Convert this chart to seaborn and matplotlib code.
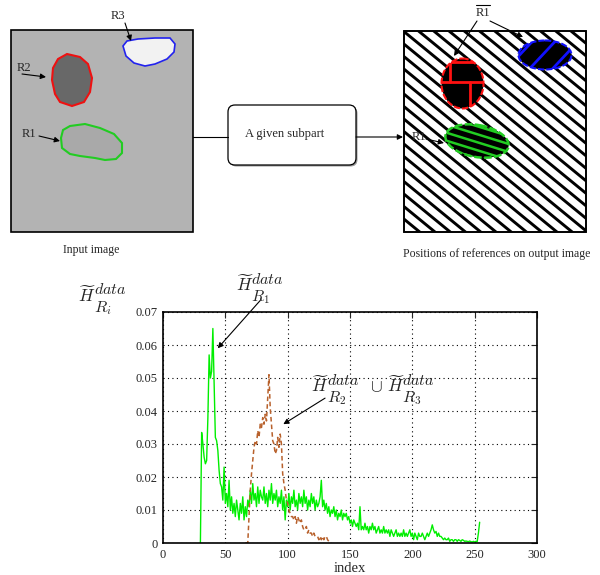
import seaborn as sns
import matplotlib.pyplot as plt
import matplotlib.patches as mpatches
import numpy as np
import pandas as pd

# ---- data (values in units of 1e-3) ----
r1_start = 30
r1_hist = [0,
           33.5, 30, 26, 24, 25, 38, 57, 50, 52, 65,
           48, 32, 31, 28, 22, 18, 17, 13, 23, 12,
           15, 11, 19, 10, 14, 9, 12, 8, 13, 10,
           7, 12, 9, 14, 7, 11, 8, 13, 11, 16,
           12, 18, 13, 15, 11, 17, 12, 16, 14, 13,
           17, 12, 15, 11, 16, 13, 18, 12, 15, 13,
           16, 11, 14, 12, 16, 10, 14, 7, 13, 11,
           15, 10, 14, 12, 16, 11, 13, 10, 15, 12,
           14, 11, 16, 12, 14, 10, 13, 11, 15, 12,
           14, 10, 13, 11, 12, 14, 19, 11, 13, 10,
           12, 9, 11, 8, 10, 9, 11, 8, 10, 7,
           9, 8, 10, 7, 9, 8, 9, 7, 8, 6,
           7, 5, 7, 6, 5, 6, 4, 11, 4, 5,
           4, 6, 4, 5, 3, 5, 4, 6, 4, 5,
           3, 4, 5, 3, 4, 3, 5, 3, 4, 3,
           4, 2, 4, 3, 2, 3, 4, 2, 3, 2,
           3, 2, 4, 2, 3, 2, 3, 4, 2, 3,
           1, 3, 2, 1, 3, 2, 2, 3, 2, 1,
           2, 3, 2, 3, 4, 5.5, 4, 3, 3.5, 2,
           3, 2, 2, 1.5, 1, 1.5, 1, 1, 1.5, 0.5,
           1, 1, 0.5, 1, 1, 0.5, 1, 0.8, 0.5, 1,
           0.8, 0.5, 0.6, 0.5, 0.4, 0.6, 0.4, 0.3, 0.5, 0.3,
           0.5, 0.4, 3, 6.3]

r23_start = 66
r23_hist = [0, 0, 0, 8,
            16, 21, 25, 29, 31, 30, 34, 32, 36, 35,
            38, 36, 39, 37, 44, 51, 41, 36, 31, 30,
            27, 28, 32, 29, 33, 30, 21, 18, 16, 13,
            12, 10, 9, 8, 8, 7, 8, 6, 8, 7,
            6, 7, 5, 4, 4, 5, 3, 4, 3, 3,
            2, 3, 2, 2, 2, 1, 2, 1, 2, 1,
            2, 2, 1, 0.5, 0, 0]

x_ticks = [0, 50, 100, 150, 200, 250, 300]
y_ticks = [0, 0.01, 0.02, 0.03, 0.04, 0.05, 0.06, 0.07]
y_tick_labels = ['0', '0.01', '0.02', '0.03', '0.04', '0.05', '0.06', '0.07']

df_r1 = pd.DataFrame({'index': np.arange(r1_start, r1_start + len(r1_hist)),
                      'value': np.array(r1_hist) / 1000})
df_r23 = pd.DataFrame({'index': np.arange(r23_start, r23_start + len(r23_hist)),
                       'value': np.array(r23_hist) / 1000})

sns.set_style('white')
plt.rcParams['font.family'] = ['Liberation Serif', 'DejaVu Serif']
plt.rcParams['mathtext.fontset'] = 'cm'

fig = plt.figure(figsize=(6, 5.75), dpi=100)

# ---------------- diagram (pixel coordinates) ----------------
dax = fig.add_axes([0, 0, 1, 1])
dax.set_xlim(0, 600)
dax.set_ylim(575, 0)
dax.set_axis_off()

arrow = dict(arrowstyle='-|>', color='black', lw=0.8, mutation_scale=8,
             shrinkA=0, shrinkB=0)

# input image
dax.add_patch(mpatches.Rectangle((11, 30), 182, 202, facecolor='#b3b3b3',
                                 edgecolor='black', lw=1.2))
r2_poly = [(67, 54), (80, 57), (88, 64), (92, 78), (90, 92), (84, 102), (72, 106),
           (60, 102), (55, 94), (52, 80), (53, 68), (58, 59)]
r3_poly = [(123, 46), (127, 41), (138, 39), (155, 38), (170, 38), (175, 44), (174, 52),
           (167, 59), (155, 64), (145, 66), (134, 63), (126, 56)]
r1_poly = [(61, 138), (63, 130), (70, 126), (85, 124), (100, 128), (114, 134), (122, 143),
           (122, 153), (116, 159), (105, 160), (95, 158), (80, 156), (70, 154), (62, 148)]
dax.add_patch(mpatches.Polygon(r2_poly, closed=True, facecolor='#686868', edgecolor='#ee1111', lw=1.5))
dax.add_patch(mpatches.Polygon(r3_poly, closed=True, facecolor='#f2f2f2', edgecolor='#2222ee', lw=1.2))
dax.add_patch(mpatches.Polygon(r1_poly, closed=True, facecolor='#a9a9a9', edgecolor='#22cc22', lw=1.5))

dax.text(118, 16, 'R3', fontsize=9, ha='center', va='center')
dax.annotate('', xy=(131, 41), xytext=(125, 23), arrowprops=arrow)
dax.text(24, 68, 'R2', fontsize=9, ha='center', va='center')
dax.annotate('', xy=(46, 77), xytext=(22, 74), arrowprops=arrow)
dax.text(29, 134, 'R1', fontsize=9, ha='center', va='center')
dax.annotate('', xy=(60, 141), xytext=(39, 136), arrowprops=arrow)
dax.text(91, 250, 'Input image', fontsize=8.5, ha='center', va='center')

# subpart box
dax.plot([193, 228], [137, 137], color='black', lw=0.8)
dax.add_patch(mpatches.FancyBboxPatch((229.5, 106.5), 128, 60,
                                      boxstyle='round,pad=0,rounding_size=7',
                                      facecolor='#999999', edgecolor='none'))
dax.add_patch(mpatches.FancyBboxPatch((228, 105), 128, 60,
                                      boxstyle='round,pad=0,rounding_size=7',
                                      facecolor='white', edgecolor='black', lw=0.9))
dax.text(285, 134, 'A given subpart', fontsize=9, ha='center', va='center')
dax.annotate('', xy=(403, 137), xytext=(356, 137), arrowprops=arrow)

# output image with hatching
out_box = mpatches.Rectangle((404, 31), 182, 201, facecolor='white',
                             edgecolor='black', lw=1.2, zorder=1)
dax.add_patch(out_box)
xs = np.array([380, 620])
for c in np.arange(-349.7 - 13 * 12.5, -100, 12.5):
    ln, = dax.plot(xs, 0.82 * xs + c, color='black', lw=2.1, zorder=1.5)
    ln.set_clip_path(out_box)
dax.add_patch(mpatches.Rectangle((404, 31), 182, 201, facecolor='none',
                                 edgecolor='black', lw=1.2, zorder=4))

red_e = mpatches.Ellipse((462.5, 83.5), 42, 50, facecolor='black', edgecolor='none', zorder=2)
blue_e = mpatches.Ellipse((545, 55), 53, 29, facecolor='black', edgecolor='none', zorder=2)
green_e = mpatches.Ellipse((477, 141), 64, 32, angle=10, facecolor='black', edgecolor='none', zorder=2)
for e in (red_e, blue_e, green_e):
    dax.add_patch(e)

for (x0, x1, y0, y1) in [(430, 500, 62, 62), (430, 500, 82, 82), (450, 450, 62, 82),
                         (470, 470, 82, 110)]:
    ln, = dax.plot([x0, x1], [y0, y1], color='#ff1111', lw=2, zorder=2.5)
    ln.set_clip_path(red_e)
for c in [611, 635.4, 660]:
    ln, = dax.plot(xs, -1.07 * xs + c, color='#1111ff', lw=2, zorder=2.5)
    ln.set_clip_path(blue_e)
for c in np.arange(-5.7 - 24, 30, 8):
    ln, = dax.plot(xs, 0.31 * xs + c, color='#22cc22', lw=1.8, zorder=2.5)
    ln.set_clip_path(green_e)

dax.add_patch(mpatches.Ellipse((462.5, 83.5), 42, 50, facecolor='none', edgecolor='#ff1111',
                               lw=1.5, ls=(0, (3, 1)), zorder=3))
dax.add_patch(mpatches.Ellipse((545, 55), 53, 29, facecolor='none', edgecolor='#1111ff',
                               lw=1.5, ls=(0, (3, 1)), zorder=3))
dax.add_patch(mpatches.Ellipse((477, 141), 64, 32, angle=10, facecolor='none', edgecolor='#22cc22',
                               lw=1.8, ls=(0, (3, 1)), zorder=3))

dax.text(483, 13, 'R1', fontsize=9, ha='center', va='center', zorder=5)
dax.plot([476, 490], [5, 5], color='black', lw=0.8, zorder=5)
dax.annotate('', xy=(454, 56), xytext=(477, 21), arrowprops=arrow, zorder=5)
dax.annotate('', xy=(523, 37), xytext=(490, 21), arrowprops=arrow, zorder=5)
dax.text(419, 137, 'R1', fontsize=9, ha='center', va='center', zorder=5)
dax.annotate('', xy=(444, 143), xytext=(426, 139), arrowprops=arrow, zorder=5)
dax.text(497, 254, 'Positions of references on output image', fontsize=8.5,
         ha='center', va='center')

# ---------------- histogram chart ----------------
ax = fig.add_axes([163 / 600, 1 - 543 / 575, 374 / 600, 231 / 575])
sns.lineplot(data=df_r1, x='index', y='value', ax=ax, color='#00ee00', lw=1)
sns.lineplot(data=df_r23, x='index', y='value', ax=ax, color='#b8612c', lw=1.1,
             linestyle=(0, (3, 2)))

ax.set_xlim(0, 300)
ax.set_ylim(0, 0.07)
ax.set_xticks(x_ticks)
ax.set_xticklabels([str(t) for t in x_ticks])
ax.set_yticks(y_ticks)
ax.set_yticklabels(y_tick_labels)
ax.grid(True, color='black', lw=0.8, linestyle=(0, (1, 3)))
ax.tick_params(direction='in', length=4, width=0.8, top=True, right=True,
               labelsize=9, pad=4)
for s in ax.spines.values():
    s.set_visible(True)
    s.set_color('black')
    s.set_linewidth(1.2)
ax.set_xlabel('index', fontsize=10.5, labelpad=1)
ax.set_ylabel('')


def h_label(xy, sub):
    # H-tilde with "data" on top and R_sub below, same size as in the TeX figure
    kw = dict(xycoords='data', textcoords='offset points', ha='left',
              va='baseline', annotation_clip=False)
    ax.annotate(r'$\widetilde{H}$', xy, xytext=(0, 0), fontsize=12.5, **kw)
    ax.annotate(r'$data$', xy, xytext=(11, 5.5), fontsize=11.5, **kw)
    ax.annotate(r'$R_{%s}$' % sub, xy, xytext=(11, -7), fontsize=11.5, **kw)


h_label((-68, 0.0730), 'i')
h_label((58.6, 0.0763), '1')
ax.annotate('', xy=(43.9, 0.059), xytext=(78, 0.0735), arrowprops=arrow,
            annotation_clip=False)
h_label((119, 0.0457), '2')
ax.annotate(r'$\cup$', (166, 0.0457), xycoords='data', fontsize=12.5,
            ha='left', va='baseline')
h_label((179.5, 0.0457), '3')
ax.annotate('', xy=(96.5, 0.036), xytext=(130, 0.0439), arrowprops=arrow)

fig.savefig('out.png', dpi=100)
